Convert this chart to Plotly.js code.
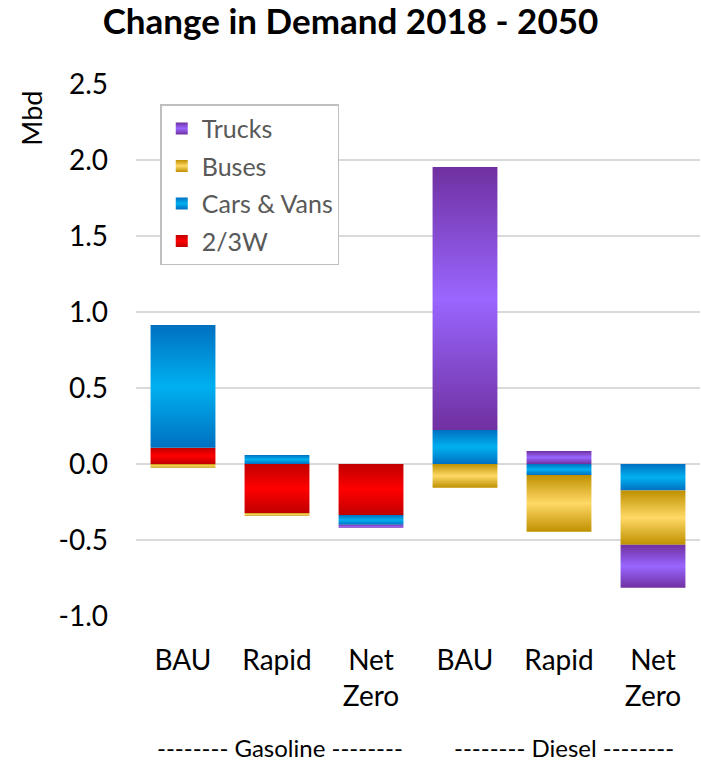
<!DOCTYPE html>
<html>
<head>
<meta charset="utf-8">
<script src="https://cdn.plot.ly/plotly-3.0.1.min.js"></script>
<style>html,body{margin:0;padding:0;background:#fff;}#chart{width:701px;height:762px;}</style>
</head>
<body>
<div id="chart"></div>
<script>
// ---- data ----
const fuels = ['Gasoline', 'Diesel'];
const scenarios = ['BAU', 'Rapid', 'Net<br>Zero'];
const seriesNames = ['2/3W', 'Cars & Vans', 'Buses', 'Trucks'];
// order: Gasoline BAU, Rapid, Net Zero, Diesel BAU, Rapid, Net Zero
const w23 =    [0.107, -0.322, -0.336, 0, 0, 0];
const cars =   [0.807, 0.059, -0.064, 0.224, -0.072, -0.175];
const buses =  [-0.025, -0.018, 0, -0.156, -0.373, -0.356];
const trucks = [0, 0, -0.020, 1.730, 0.086, -0.283];
const values = [w23, cars, buses, trucks];

const yTicks = [-1.0, -0.5, 0.0, 0.5, 1.0, 1.5, 2.0, 2.5];
const title = 'Change in Demand 2018 - 2050';
const yTitle = 'Mbd';

// ---- style ----
const grads = [
  {dark: '#C00000', light: '#FF0000'},
  {dark: '#0070C0', light: '#00B0F0'},
  {dark: '#BF9000', light: '#FFD966'},
  {dark: '#7030A0', light: '#9966FF'}
];

const xKeys = [];
const tickText = [];
fuels.forEach(f => scenarios.forEach(s => { xKeys.push(f + ' ' + s); tickText.push(s); }));

const FONT = 'Lato, "Open Sans", sans-serif';

const traces = seriesNames.map((name, i) => ({
  type: 'bar',
  name: name,
  x: xKeys,
  y: values[i],
  legendgroup: 'g' + i,
  legendrank: seriesNames.length - i,
  marker: {color: grads[i].light, line: {width: 0}},
  hoverinfo: 'skip'
}));

const layout = {
  width: 701, height: 762,
  margin: {l: 136, r: 1, t: 84, b: 146},
  paper_bgcolor: '#fff', plot_bgcolor: '#fff',
  barmode: 'relative',
  bargap: 0.31,
  font: {family: FONT, color: '#000'},
  title: {text: '<b>' + title + '</b>', font: {size: 35, family: FONT, color: '#000'}, x: 0.5, xanchor: 'center', y: 0.972, yanchor: 'middle'},
  xaxis: {
    type: 'category', categoryorder: 'array', categoryarray: xKeys,
    tickmode: 'array', tickvals: xKeys, ticktext: tickText,
    tickfont: {size: 28, color: '#000', family: FONT},
    showgrid: false, showline: false, ticks: '', zeroline: false,
    ticklabelstandoff: 25
  },
  yaxis: {
    range: [-1.0, 2.5], tickmode: 'array', tickvals: yTicks,
    ticktext: yTicks.map(v => v.toFixed(1)),
    tickfont: {size: 28, color: '#000', family: FONT},
    showgrid: true, gridcolor: '#D9D9D9', gridwidth: 1.5,
    zeroline: false, showline: false, ticks: '', ticklabelstandoff: 27
  },
  legend: {
    x: 0.043, y: 0.962, xanchor: 'left', yanchor: 'top',
    traceorder: 'grouped', tracegroupgap: 2,
    bgcolor: '#fff', bordercolor: '#BFBFBF', borderwidth: 1.5,
    font: {size: 25, color: '#595959', family: FONT},
    itemwidth: 30
  },
  annotations: [
    {text: yTitle, xref: 'paper', yref: 'paper', x: -0.186, y: 0.935, textangle: -90,
     showarrow: false, xanchor: 'center', yanchor: 'middle', font: {size: 27, color: '#000', family: FONT}},
    {text: '-------- ' + fuels[0] + ' --------', xref: 'paper', yref: 'paper', x: 0.255, y: -0.248,
     showarrow: false, xanchor: 'center', yanchor: 'middle', font: {size: 24, color: '#000', family: FONT}},
    {text: '-------- ' + fuels[1] + ' --------', xref: 'paper', yref: 'paper', x: 0.758, y: -0.248,
     showarrow: false, xanchor: 'center', yanchor: 'middle', font: {size: 24, color: '#000', family: FONT}}
  ]
};

function applyGradients(gd) {
  const svg = gd.querySelector('svg.main-svg');
  const ns = 'http://www.w3.org/2000/svg';
  let defs = svg.querySelector('defs');
  if (!defs) { defs = document.createElementNS(ns, 'defs'); svg.insertBefore(defs, svg.firstChild); }
  grads.forEach((g, i) => {
    const lg = document.createElementNS(ns, 'linearGradient');
    lg.setAttribute('id', 'barGrad' + i);
    lg.setAttribute('x1', '0'); lg.setAttribute('y1', '0');
    lg.setAttribute('x2', '0'); lg.setAttribute('y2', '1');
    [[0, g.dark], [0.5, g.light], [1, g.dark]].forEach(([o, c]) => {
      const st = document.createElementNS(ns, 'stop');
      st.setAttribute('offset', o); st.setAttribute('stop-color', c);
      lg.appendChild(st);
    });
    defs.appendChild(lg);
  });
  gd.querySelectorAll('.barlayer .trace.bars').forEach((t, i) => {
    t.querySelectorAll('path').forEach(p => { p.style.fill = 'url(#barGrad' + i + ')'; });
  });
  gd.querySelectorAll('.legend .traces').forEach(t => {
    const name = t.querySelector('.legendtext').textContent;
    const i = seriesNames.indexOf(name);
    t.querySelectorAll('.legendpoints path').forEach(p => { p.style.fill = 'url(#barGrad' + i + ')'; });
  });
}

Plotly.newPlot('chart', traces, layout, {staticPlot: true, displayModeBar: false})
  .then(gd => applyGradients(gd));
</script>
</body>
</html>
